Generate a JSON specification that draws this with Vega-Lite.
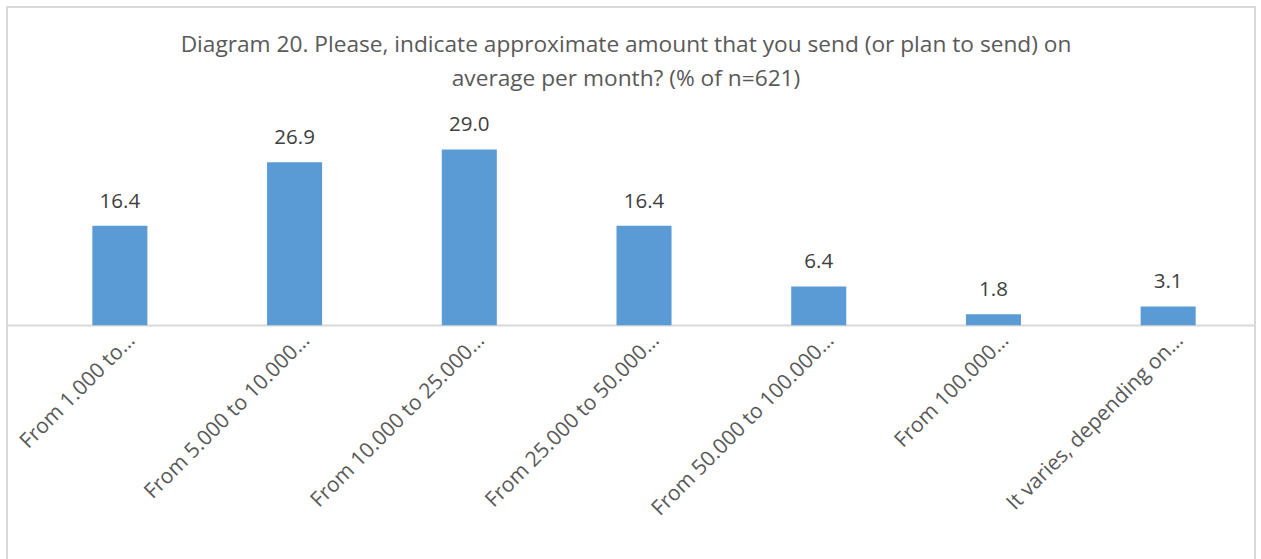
{
  "$schema": "https://vega.github.io/schema/vega-lite/v6.json",
  "autosize": "none",
  "width": 1248,
  "height": 560,
  "padding": {"left": 7, "top": 7, "right": 6, "bottom": 0},
  "background": "white",
  "title": {
    "text": ["Diagram 20. Please, indicate approximate amount that you send (or plan to send) on", "average per month? (% of n=621)"],
    "font": "Open Sans",
    "fontSize": 22.7,
    "fontWeight": "normal",
    "color": "#595959",
    "lineHeight": 34,
    "offset": -84,
    "dx": -5,
    "anchor": "middle"
  },
  "config": {
    "view": {"stroke": "#d9d9d9", "strokeWidth": 2},
    "font": "Open Sans"
  },
  "data": {
    "values": [
      {"category": "From 1.000 to…", "value": 16.4},
      {"category": "From 5.000 to 10.000…", "value": 26.9},
      {"category": "From 10.000 to 25.000…", "value": 29.0},
      {"category": "From 25.000 to  50.000…", "value": 16.4},
      {"category": "From 50.000 to 100.000…", "value": 6.4},
      {"category": "From 100.000…", "value": 1.8},
      {"category": "It varies, depending on…", "value": 3.1}
    ]
  },
  "encoding": {
    "x": {
      "field": "category",
      "type": "nominal",
      "sort": null,
      "scale": {"paddingInner": 0.685, "paddingOuter": 0.414, "align": 0.59, "round": false},
      "axis": {
        "title": null,
        "offset": -242,
        "labelAngle": -45,
        "labelAlign": "right",
        "labelBaseline": "middle",
        "labelPadding": 12,
        "labelOffset": 12,
        "labelFontSize": 21,
        "labelColor": "#595959",
        "labelFont": "Open Sans",
        "labelLimit": 400,
        "ticks": false,
        "domainColor": "#d9d9d9",
        "domainWidth": 2,
        "grid": false
      }
    },
    "y": {
      "field": "value",
      "type": "quantitative",
      "scale": {"domain": [-39.9, 52.5], "nice": false, "zero": false},
      "axis": null
    }
  },
  "layer": [
    {
      "mark": {"type": "bar", "color": "#5b9bd5"},
      "encoding": {"y2": {"datum": 0}}
    },
    {
      "mark": {"type": "text", "baseline": "alphabetic", "dy": -18, "fontSize": 20.5, "color": "#404040", "font": "Open Sans"},
      "encoding": {"text": {"field": "value", "type": "quantitative", "format": ".1f"}}
    }
  ]
}
